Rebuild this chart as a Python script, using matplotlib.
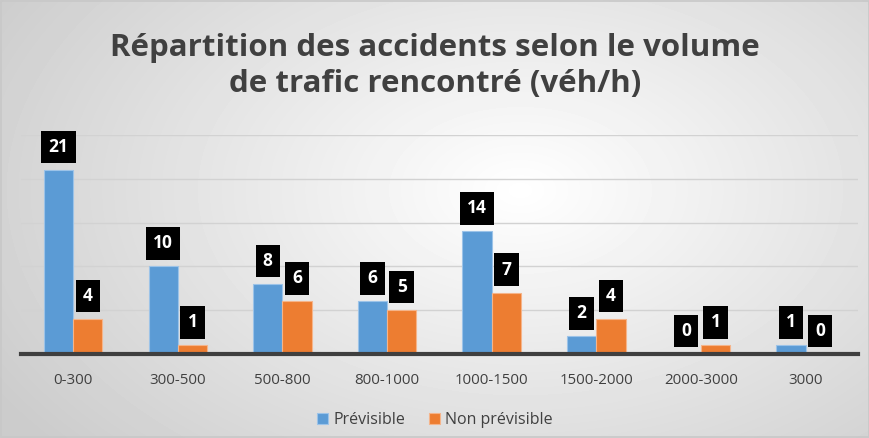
import numpy as np
import matplotlib.pyplot as plt

# data
categories = ["0-300", "300-500", "500-800", "800-1000", "1000-1500", "1500-2000", "2000-3000", "3000"]
previsible = [21, 10, 8, 6, 14, 2, 0, 1]
non_previsible = [4, 1, 6, 5, 7, 4, 1, 0]

plt.rcParams['font.family'] = ['Open Sans', 'DejaVu Sans']

fig = plt.figure(figsize=(8.7, 4.38), dpi=100)

# radial gradient background
bg = fig.add_axes([0, 0, 1, 1], zorder=-10)
yy, xx = np.mgrid[0:438, 0:870]
r = np.sqrt(((xx - 520) / 520.0) ** 2 + ((yy - 190) / 330.0) ** 2)
shade = np.clip(1.0 - 0.17 * r, 0.80, 1.0)
bg.imshow(shade, cmap='gray', vmin=0, vmax=1, aspect='auto', extent=[0, 1, 0, 1])
bg.add_patch(plt.Rectangle((0.001, 0.002), 0.998, 0.996, fill=False, ec='#c8c8c8', lw=1.2,
                           transform=bg.transAxes))
bg.axis('off')

ax = fig.add_axes([0.024, 0.192, 0.962, 0.5])
ax.patch.set_alpha(0)

x = np.arange(len(categories))
w = 0.28
b1 = ax.bar(x - w / 2, previsible, w, color='#5B9BD5', edgecolor='#9cc3e8', lw=0.8, label='Prévisible', zorder=3)
b2 = ax.bar(x + w / 2, non_previsible, w, color='#ED7D31', edgecolor='#f5b48a', lw=0.8, label='Non prévisible', zorder=3)

for bars, vals in ((b1, previsible), (b2, non_previsible)):
    for bar, v in zip(bars, vals):
        ax.annotate(str(v), (bar.get_x() + bar.get_width() / 2, v), xytext=(0, 16.5),
                    textcoords='offset points', ha='center', va='center',
                    color='white', fontsize=12.5, fontweight='bold', zorder=5,
                    bbox=dict(boxstyle='square,pad=0.42', fc='black', ec='none'))

ax.set_xlim(-0.5, len(categories) - 0.5)
ax.set_ylim(0, 25)
ax.set_yticks([5, 10, 15, 20, 25])
ax.yaxis.grid(True, color='#d2d2d2', lw=1, zorder=0)
ax.tick_params(axis='y', left=False, labelleft=False)
ax.tick_params(axis='x', length=0, pad=14, labelsize=10.8, labelcolor='#404040')
ax.set_xticks(x)
ax.set_xticklabels(categories)
for s in ['top', 'right', 'left']:
    ax.spines[s].set_visible(False)
ax.spines['bottom'].set_color('#3f3f3f')
ax.spines['bottom'].set_linewidth(3)
ax.spines['bottom'].set_zorder(4)

fig.text(0.5, 0.849, "Répartition des accidents selon le volume\nde trafic rencontré (véh/h)",
         ha='center', va='center', fontsize=22.5, fontweight='bold', color='#404040', linespacing=1.25)

fig.legend(handles=[b1, b2], loc='center', bbox_to_anchor=(0.5, 0.04), ncol=2, frameon=False,
           fontsize=11.5, labelcolor='#404040', handlelength=0.7, handleheight=0.7,
           handletextpad=0.3, columnspacing=1.5)

fig.savefig('out.png', dpi=100)
